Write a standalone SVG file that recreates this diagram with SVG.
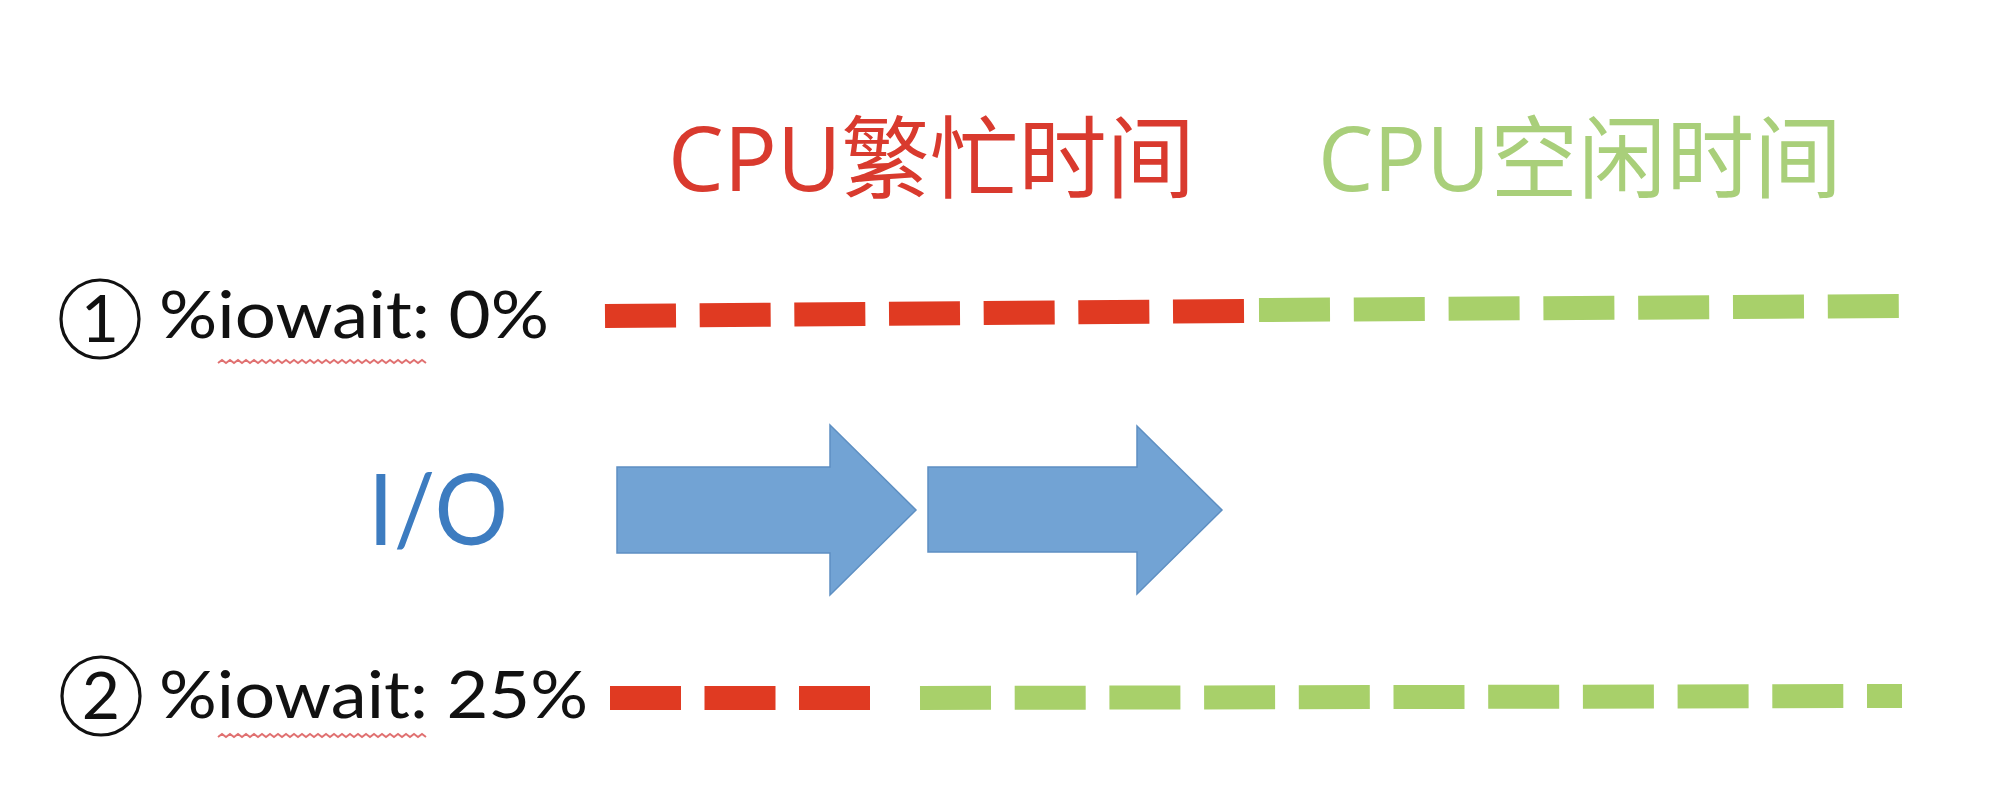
<svg xmlns="http://www.w3.org/2000/svg" width="1992" height="812" viewBox="0 0 1992 812">
<style>
.title{font-family:"Open Sans","Noto Sans CJK SC",sans-serif;font-size:90px}
.lbl{font-family:Lato,"Liberation Sans",sans-serif;font-size:66px;fill:#111}
.num{font-family:Lato,"Liberation Sans",sans-serif;font-size:66px;fill:#111}
.ring{fill:none;stroke:#111;stroke-width:3.2}
.red{stroke:#e03a22;stroke-width:24;fill:none}
.green{stroke:#a8d06a;stroke-width:24;fill:none}
.arrow{fill:#72a3d4;stroke:#5e8fc2;stroke-width:1.5}
.wave{fill:none;stroke:#e07070;stroke-width:2}
</style>
<rect width="1992" height="812" fill="#ffffff"/>
<g id="title-busy"><text class="title" x="668" y="191" fill="#d93a2e" textLength="527" lengthAdjust="spacingAndGlyphs">CPU繁忙时间</text></g>
<g id="title-idle"><text class="title" x="1318" y="191" fill="#a9cf7a" textLength="524" lengthAdjust="spacingAndGlyphs">CPU空闲时间</text></g>
<g id="label1">
<circle class="ring" cx="100" cy="319" r="39"/>
<text class="num" x="100" y="342" text-anchor="middle">1</text>
<text class="lbl" x="159" y="338" textLength="390" lengthAdjust="spacingAndGlyphs">%iowait: 0%</text>
<path class="wave" d="M218 363 l4 -3 l4 3 l4 -3 l4 3 l4 -3 l4 3 l4 -3 l4 3 l4 -3 l4 3 l4 -3 l4 3 l4 -3 l4 3 l4 -3 l4 3 l4 -3 l4 3 l4 -3 l4 3 l4 -3 l4 3 l4 -3 l4 3 l4 -3 l4 3 l4 -3 l4 3 l4 -3 l4 3 l4 -3 l4 3 l4 -3 l4 3 l4 -3 l4 3 l4 -3 l4 3 l4 -3 l4 3 l4 -3 l4 3 l4 -3 l4 3 l4 -3 l4 3 l4 -3 l4 3 l4 -3 l4 3 l4 -3 l4 3"/>
</g>
<g id="label2">
<circle class="ring" cx="101" cy="696" r="39"/>
<text class="num" x="101" y="719" text-anchor="middle">2</text>
<text class="lbl" x="159" y="718" textLength="429" lengthAdjust="spacingAndGlyphs">%iowait: 25%</text>
<path class="wave" d="M218 737 l4 -3 l4 3 l4 -3 l4 3 l4 -3 l4 3 l4 -3 l4 3 l4 -3 l4 3 l4 -3 l4 3 l4 -3 l4 3 l4 -3 l4 3 l4 -3 l4 3 l4 -3 l4 3 l4 -3 l4 3 l4 -3 l4 3 l4 -3 l4 3 l4 -3 l4 3 l4 -3 l4 3 l4 -3 l4 3 l4 -3 l4 3 l4 -3 l4 3 l4 -3 l4 3 l4 -3 l4 3 l4 -3 l4 3 l4 -3 l4 3 l4 -3 l4 3 l4 -3 l4 3 l4 -3 l4 3 l4 -3 l4 3"/>
</g>
<g id="io-label"><text x="368" y="545" font-family="Lato,'Liberation Sans',sans-serif" font-size="98" fill="#3d7cc0" textLength="140" lengthAdjust="spacingAndGlyphs">I/O</text></g>
<g id="io-arrow1"><polygon class="arrow" points="617,467 830,467 830,425 916,510 830,595 830,553 617,553"/></g>
<g id="io-arrow2"><polygon class="arrow" points="928,467 1137,467 1137,426 1222,510 1137,594 1137,552 928,552"/></g>
<g id="connectors">
<line class="red" x1="605" y1="316" x2="1244" y2="311" stroke-dasharray="71 23.67"/>
<line class="green" x1="1259" y1="310" x2="1899" y2="306" stroke-dasharray="71 23.8"/>
<line class="red" x1="610" y1="698" x2="870" y2="698" stroke-dasharray="71 23.5"/>
<line class="green" x1="920" y1="698" x2="1902" y2="696" stroke-dasharray="71 23.7"/>
</g>
</svg>
